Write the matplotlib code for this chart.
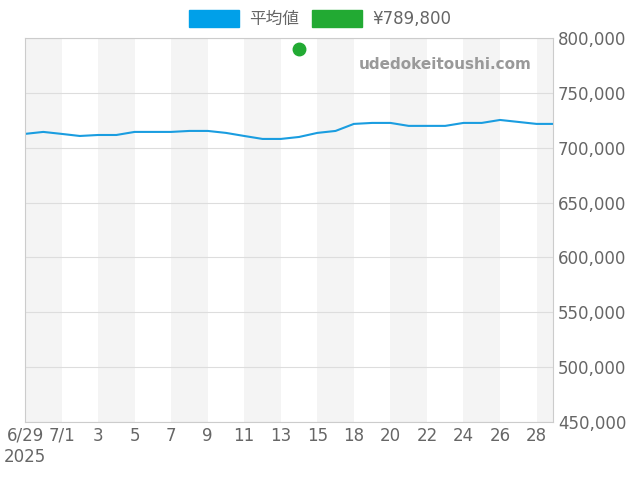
import matplotlib.pyplot as plt
from matplotlib.patches import Patch

plt.rcParams['font.family'] = ['DejaVu Sans', 'Noto Sans CJK JP']

avg = [712.6, 714.4, 712.6, 710.7, 711.6, 711.6, 714.4, 714.4, 714.4, 715.3,
       715.3, 713.5, 710.7, 708.0, 708.0, 709.8, 713.5, 715.3, 721.7, 722.6,
       722.6, 719.9, 719.9, 719.9, 722.6, 722.6, 725.3, 723.5, 721.7, 721.7]
avg = [v * 1000 for v in avg]
point_idx = 15
point_val = 789800
tick_pos = [0, 2, 4, 6, 8, 10, 12, 14, 16, 18, 20, 22, 24, 26, 28]
tick_lab = ['6/29\n2025', '7/1', '3', '5', '7', '9', '11', '13', '15', '18', '20', '22', '24', '26', '28']

fig = plt.figure(figsize=(6.4, 4.8), dpi=100)
ax = fig.add_axes([25/640, 1-422/480, 528/640, 384/480])
for s in range(0, 30, 4):
    ax.axvspan(s, s + 2, color='#f4f4f4', lw=0)
ax.plot(range(len(avg)), avg, color='#1a9de0', lw=1.5)
ax.plot(point_idx, point_val, 'o', color='#22aa33', ms=9)
ax.set_xlim(0, 28.9)
ax.set_ylim(450000, 800000)
ax.yaxis.tick_right()
ax.set_yticks(range(450000, 800001, 50000))
ax.set_yticklabels([f'{v:,}' for v in range(450000, 800001, 50000)])
ax.set_xticks(tick_pos)
ax.set_xticklabels(tick_lab)
ax.tick_params(colors='#666666', labelsize=12, length=0)
ax.grid(axis='y', color='#dddddd', lw=0.8)
for sp in ax.spines.values():
    sp.set_color('#cccccc')
ax.text(0.96, 0.93, 'udedokeitoushi.com', transform=ax.transAxes, ha='right', va='center',
        color='#999999', fontsize=11, fontweight='bold')
handles = [Patch(color='#00a0e9'), Patch(color='#22aa33')]
fig.legend(handles, ['平均値', '¥789,800'], loc='upper center', ncol=2, frameon=False,
           bbox_to_anchor=(0.5, 1.01), fontsize=12, handlelength=3, handleheight=1.2,
           columnspacing=0.8, handletextpad=0.6, labelcolor='#666666')
fig.savefig('out.png')
